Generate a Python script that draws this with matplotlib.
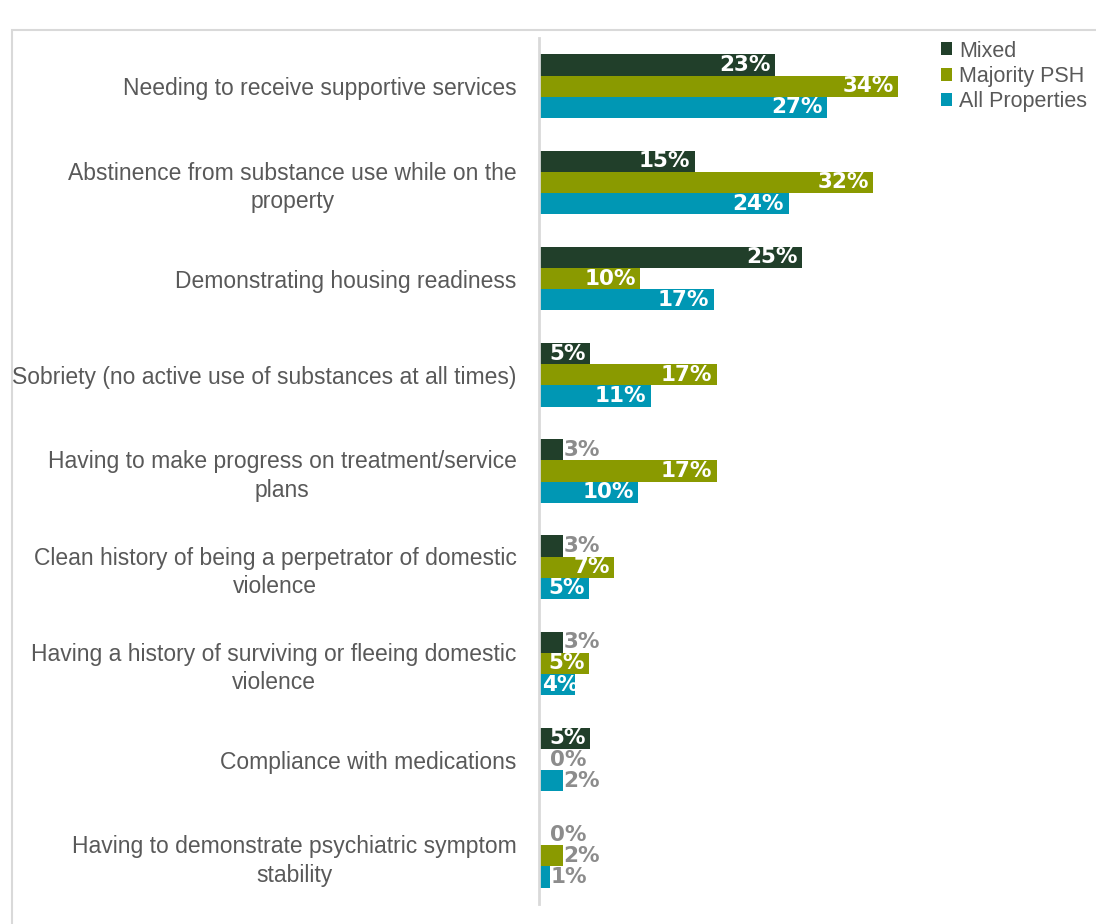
import matplotlib.pyplot as plt
import numpy as np
from matplotlib.patches import Rectangle

# categories, top to bottom
categories = [
    "Needing to receive supportive services",
    "Abstinence from substance use while on the\nproperty",
    "Demonstrating housing readiness",
    "Sobriety (no active use of substances at all times)",
    "Having to make progress on treatment/service\nplans",
    "Clean history of being a perpetrator of domestic\nviolence",
    "Having a history of surviving or fleeing domestic\nviolence",
    "Compliance with medications",
    "Having to demonstrate psychiatric symptom\nstability",
]
# bar lengths and the printed labels
mixed = [22.6, 14.9, 25.2, 4.9, 2.3, 2.3, 2.3, 4.9, 0]
majority_psh = [34.4, 32.0, 9.7, 17.0, 17.0, 7.2, 4.8, 0, 2.3]
all_properties = [27.6, 23.9, 16.7, 10.7, 9.5, 4.8, 3.4, 2.3, 1.1]
mixed_labels = [23, 15, 25, 5, 3, 3, 3, 5, 0]
majority_psh_labels = [34, 32, 10, 17, 17, 7, 5, 0, 2]
all_properties_labels = [27, 24, 17, 11, 10, 5, 4, 2, 1]

series_names = ["Mixed", "Majority PSH", "All Properties"]
series_colors = ["#213f2a", "#8a9a00", "#0097b4"]

plt.rcParams["font.family"] = ["Liberation Sans", "DejaVu Sans"]

fig = plt.figure(figsize=(10.96, 9.24), dpi=100)
# light frame around the chart area
fig.patches.append(Rectangle((12 / 1096, -0.01), 1.1, 1 - 30 / 924 + 0.01,
                             transform=fig.transFigure, fill=False,
                             edgecolor="#d9d9d9", linewidth=1.5))

ax = fig.add_axes([539 / 1096, 20 / 924, 522.5 / 1096, 866 / 924])

y = np.arange(len(categories))
h = 0.22
series = [mixed, majority_psh, all_properties]
labels = [mixed_labels, majority_psh_labels, all_properties_labels]
lab_kw = dict(va="center", family="DejaVu Sans", fontsize=15.5, fontweight="bold")
for k, (vals, labs, name, col) in enumerate(zip(series, labels, series_names, series_colors)):
    pos = y + (k - 1) * h
    bars = ax.barh(pos, vals, height=h, color=col, label=name)
    for bar, p, v, lab in zip(bars, pos, vals, labs):
        if v >= 4:
            ax.text(v - 0.45, p, f"{lab}%", ha="right", color="white", **lab_kw)
        elif v >= 3:
            # label does not fit: starts at bar base and is cut at the bar end
            t = ax.text(0.3, p, f"{lab}%", ha="left", color="white", **lab_kw)
            t.set_clip_path(bar)
        else:
            off = 1.1 if v == 0 else 0.05
            ax.text(v + off, p, f"{lab}%", ha="left", color="#8c8c8c", **lab_kw)

ax.set_xlim(0, 50)
ax.set_ylim(len(categories) - 0.5, -0.5)
ax.set_xticks([])
ax.set_yticks(y)
ax.set_yticklabels(categories, fontsize=16.5, color="#595959",
                   multialignment="center", linespacing=1.3)
ax.tick_params(axis="y", length=0, pad=16)
for s in ["top", "right", "bottom"]:
    ax.spines[s].set_visible(False)
ax.spines["left"].set_color("#d9d9d9")
ax.spines["left"].set_linewidth(2)

leg = ax.legend(loc="upper left", bbox_to_anchor=(0.752, 1.007), frameon=False,
                fontsize=15.5, handlelength=0.55, handleheight=0.55,
                handletextpad=0.3, labelspacing=0.2, borderaxespad=0)
for t in leg.get_texts():
    t.set_color("#595959")

fig.savefig("out.png", dpi=100)
